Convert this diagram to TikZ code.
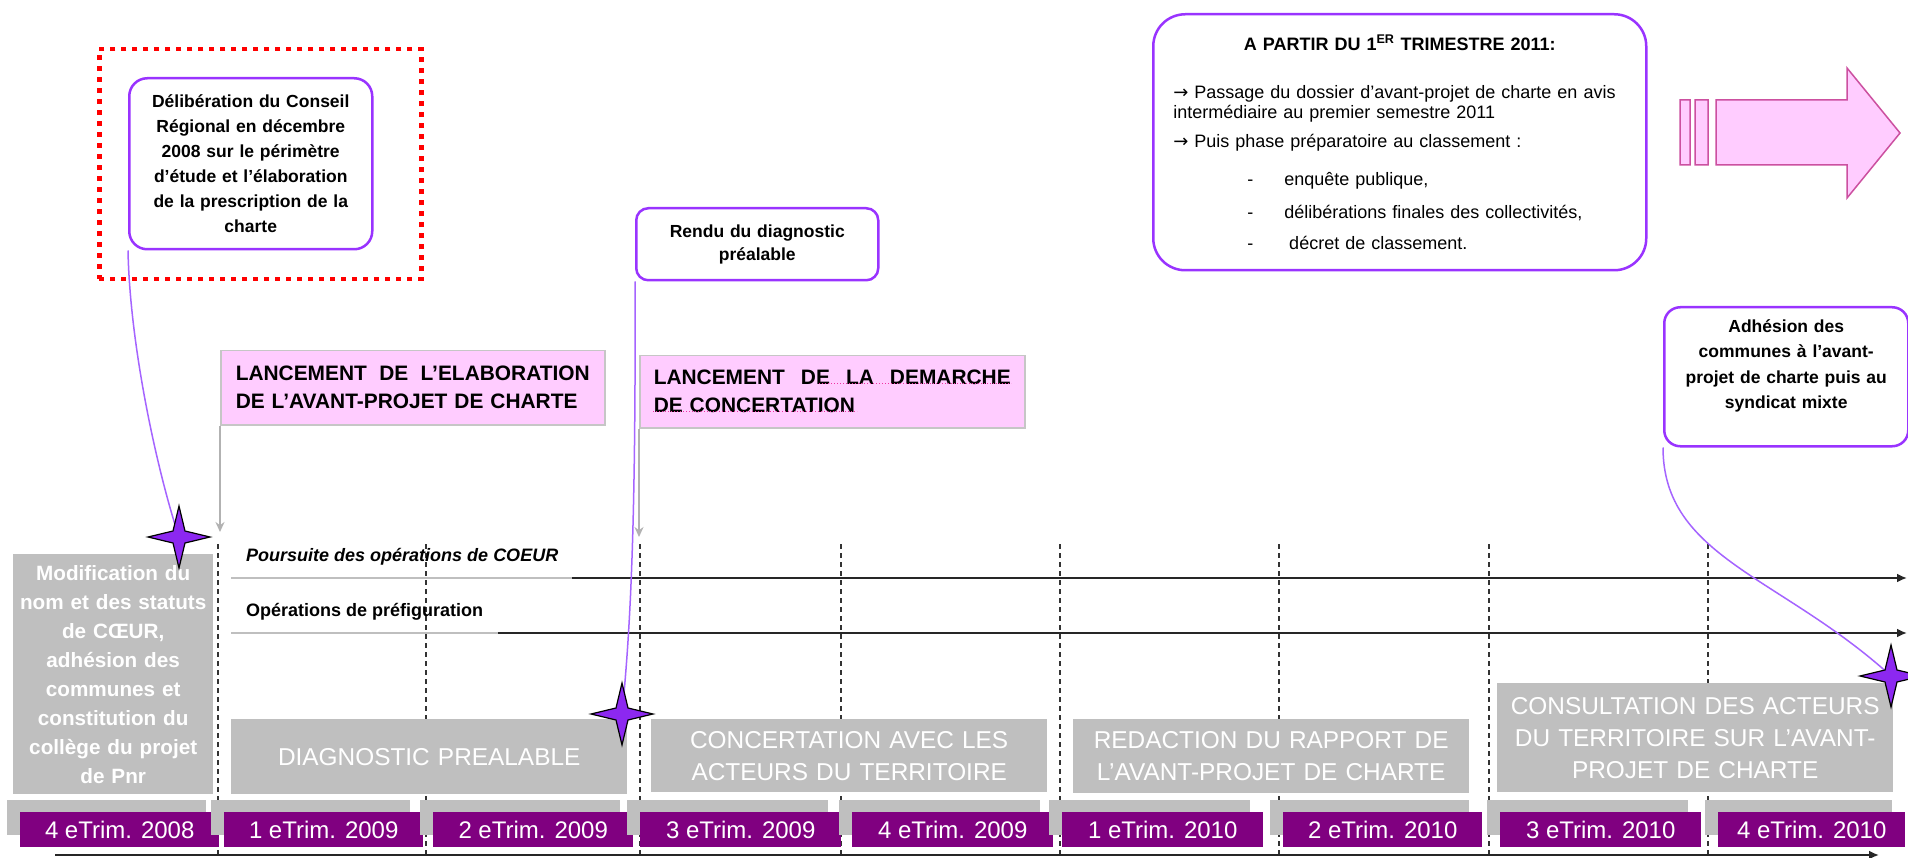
\documentclass[tikz,border=0pt]{standalone}
\usepackage{fontspec}
\setmainfont{Liberation Sans}
\newfontfamily\arrowfont{DejaVu Sans}
\usepackage{tikz}
\usetikzlibrary{arrows.meta}
\tikzset{>={Latex[width=9pt,length=10pt]}}

\definecolor{violetline}{RGB}{153,51,255}
\definecolor{linkviolet}{RGB}{165,100,255}
\definecolor{starviolet}{RGB}{140,40,240}
\definecolor{pinkfill}{RGB}{255,204,255}
\definecolor{phasegray}{RGB}{191,191,191}
\definecolor{quarterpurple}{RGB}{128,0,128}
\definecolor{arrowrim}{RGB}{204,80,160}

% four-point star at a named coordinate
\newcommand{\sparkle}[1]{%
  \filldraw[fill=starviolet, draw=black, line width=1.2pt, shift={(#1)}]
    (0,-31) -- (6,-6) -- (31,0) -- (6,6) -- (0,31) -- (-6,6) -- (-31,0) -- (-6,-6) -- cycle;}
\newcommand{\rarr}{{\arrowfont →}}

\begin{document}
\begin{tikzpicture}[x=1pt, y=-1pt,
    callout/.style = {draw=violetline, line width=2.5pt, fill=white, rounded corners=18pt,
        anchor=north west, align=center, font=\fontsize{17.5}{25}\selectfont\bfseries},
    launch/.style = {draw=gray!45, line width=1.5pt, fill=pinkfill, anchor=north west,
        align=left, minimum height=74, font=\fontsize{20.9}{28}\selectfont\bfseries},
    phase/.style = {fill=phasegray, text=white, anchor=north west, align=center,
        text width=380pt, inner xsep=8pt, font=\fontsize{24.4}{32}\selectfont},
    quarter/.style = {fill=quarterpurple, text=white, anchor=north west, minimum height=35,
        inner sep=0pt, font=\fontsize{24}{28}\selectfont},
    qshade/.style = {fill=phasegray, anchor=north west, minimum height=35, inner sep=0pt},
    gridline/.style = {black!80, line width=1.4pt, dash pattern=on 5pt off 4pt},
    track/.style = {black!85, line width=2pt, ->},
    faded/.style = {gray!50, line width=1.5pt},
    link/.style = {linkviolet, line width=1.5pt},
    cue/.style = {gray!60, line width=1.5pt, -{Stealth[length=10pt,width=9pt]}},
    squiggle/.style = {magenta!80, line width=1pt, dash pattern=on 1pt off 2pt},
    redframe/.style = {draw=red, line width=4.5pt, dash pattern=on 5pt off 6pt, anchor=north west}
  ]
  \path[use as bounding box, fill=white] (0,0) rectangle (1908,858);

  % quarter separators
  \foreach \x in {218,426,640,841,1060,1279,1489,1708}
    \draw[gridline] (\x,544) -- (\x,858);

  % ongoing operations
  \coordinate (p1a) at (231,578);
  \coordinate (p1b) at (572,578);
  \coordinate (p1c) at (1907,578);
  \coordinate (p2a) at (231,633);
  \coordinate (p2b) at (498,633);
  \coordinate (p2c) at (1907,633);
  \draw[faded] (p1a) -- (p1b);
  \draw[track] (p1b) -- (p1c);
  \draw[faded] (p2a) -- (p2b);
  \draw[track] (p2b) -- (p2c);
  \node[anchor=west, inner sep=0pt, font=\fontsize{18}{20}\selectfont\bfseries\itshape]
    (poursuite) at (246,557) {Poursuite des opérations de COEUR};
  \node[anchor=west, inner sep=0pt, font=\fontsize{18}{20}\selectfont\bfseries]
    (prefig) at (246,612) {Opérations de préfiguration};

  % phases
  \node[phase, text width=190pt, inner xsep=5pt, minimum height=240,
    font=\fontsize{20.7}{29}\selectfont\bfseries] (modif) at (13,554)
    {Modification du\\ nom et des statuts\\ de CŒUR,\\ adhésion des\\ communes et\\
     constitution du\\ collège du projet\\ de Pnr};
  \node[phase, minimum height=75] (diag) at (231,719) {DIAGNOSTIC PREALABLE};
  \node[phase, minimum height=73] (conc) at (651,719)
    {CONCERTATION AVEC LES\\ ACTEURS DU TERRITOIRE};
  \node[phase, minimum height=74] (redac) at (1073,719)
    {REDACTION DU RAPPORT DE\\ L’AVANT-PROJET DE CHARTE};
  \node[phase, minimum height=109] (consu) at (1497,683)
    {CONSULTATION DES ACTEURS\\ DU TERRITOIRE SUR L’AVANT-\\ PROJET DE CHARTE};

  % quarters
  \foreach \x/\w/\lbl [count=\i] in {20/199/4 eTrim. 2008, 224/199/1 eTrim. 2009,
      433/200/2 eTrim. 2009, 640/201/3 eTrim. 2009, 852/201/4 eTrim. 2009,
      1062/201/1 eTrim. 2010, 1283/199/2 eTrim. 2010, 1500/201/3 eTrim. 2010,
      1718/187/4 eTrim. 2010} {
    \node[qshade, minimum width=\w] at (\x-13,800) {};
    \node[quarter, minimum width=\w] (q\i) at (\x,812) {\lbl};
  }
  \coordinate (t0) at (55,855);
  \coordinate (t1) at (1879,855);
  \draw[track] (t0) -- (t1);

  % milestones
  \node[redframe, minimum width=322, minimum height=230] (frame) at (97,47) {};
  \node[callout, minimum width=243, minimum height=171, text width=235pt, inner xsep=4pt]
    (delib) at (128,77) {Délibération du Conseil\\ Régional en décembre\\
    2008 sur le périmètre\\ d’étude et l’élaboration\\ de la prescription de la\\ charte};
  \node[callout, rounded corners=12pt, minimum width=242, minimum height=72,
    text width=234pt, inner xsep=4pt, font=\fontsize{17.5}{23}\selectfont\bfseries]
    (rendu) at (635,207) {Rendu du diagnostic\\ préalable};
  \node[callout, rounded corners=16pt, minimum width=244, minimum height=139,
    text width=236pt, inner xsep=4pt, font=\fontsize{17.5}{25.5}\selectfont\bfseries]
    (adh) at (1663,306)
    {Adhésion des\\ communes à l’avant-\\ projet de charte puis au\\ syndicat mixte\\ \mbox{}};
  \node[callout, rounded corners=32pt, minimum width=493, minimum height=256,
    text width=453pt, inner xsep=20pt, align=left, font=\fontsize{18}{20}\selectfont]
    (avis) at (1152,13) {%
    \makebox[453pt]{\bfseries A PARTIR DU 1\textsuperscript{ER} TRIMESTRE 2011:}\\[28pt]
    \rarr\ Passage du dossier d'avant-projet de charte en avis\\
    intermédiaire au premier semestre 2011\\[9pt]
    \rarr\ Puis phase préparatoire au classement :\\[18pt]
    \hspace*{74pt}-\hspace*{31pt}enquête publique,\\[13pt]
    \hspace*{74pt}-\hspace*{31pt}délibérations finales des collectivités,\\[11pt]
    \hspace*{74pt}-\hspace*{36pt}décret de classement.};

  % big arrow
  \filldraw[fill=pinkfill, draw=arrowrim, line width=1.5pt]
    (1680,100) rectangle (1690,165)
    (1695,100) rectangle (1708,165)
    (1716,100) -- (1847,100) -- (1847,68) -- (1900,133) -- (1847,198)
      -- (1847,165) -- (1716,165) -- cycle;

  % launches
  \node[launch, text width=354pt, inner xsep=15pt] (lanc1) at (220,350)
    {\hbox to 354pt{LANCEMENT\hfill DE\hfill L’ELABORATION}\\ DE L’AVANT-PROJET DE CHARTE};
  \node[launch, text width=357pt, inner xsep=14pt, minimum height=72] (lanc2) at (639,355)
    {\hbox to 357pt{LANCEMENT\hfill DE\hfill LA\hfill DEMARCHE}\\ DE CONCERTATION};
  \draw[squiggle] (819,383) -- (1011,383);
  \draw[squiggle] (653,411) -- (857,411);

  \coordinate (g1) at (220,532);
  \coordinate (g2) at (639,537);
  \draw[cue] (lanc1.south west) -- (g1);
  \draw[cue] (lanc2.south west) -- (g2);

  % links to the stars
  \coordinate (s1) at (179,537);
  \coordinate (s2) at (622,714);
  \coordinate (s3) at (1891,676);
  \draw[link] (delib.south west) .. controls +(2,100) and +(-20,-60) .. (s1);
  \draw[link] (rendu.south west) .. controls +(1,250) and +(8,-80) .. (s2);
  \draw[link] (adh.south west) .. controls +(0,110) and +(-110,-100) .. (s3);
  \sparkle{s1}
  \sparkle{s2}
  \sparkle{s3}
\end{tikzpicture}
\end{document}
